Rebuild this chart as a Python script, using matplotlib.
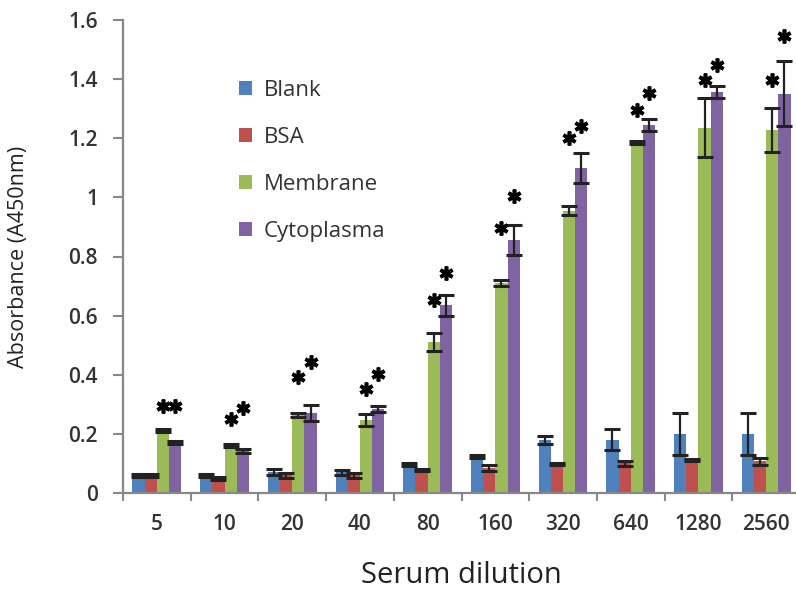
import matplotlib
matplotlib.use("Agg")
import matplotlib.pyplot as plt
import numpy as np

categories = ["5", "10", "20", "40", "80", "160", "320", "640", "1280", "2560"]
series_names = ["Blank", "BSA", "Membrane", "Cytoplasma"]

blank = [0.060, 0.060, 0.070, 0.070, 0.095, 0.122, 0.180, 0.180, 0.200, 0.200]
blank_err = [0.005, 0.005, 0.010, 0.008, 0.005, 0.005, 0.013, 0.035, 0.070, 0.070]
bsa = [0.060, 0.050, 0.060, 0.060, 0.078, 0.085, 0.097, 0.100, 0.112, 0.108]
bsa_err = [0.005, 0.005, 0.008, 0.008, 0.004, 0.010, 0.003, 0.008, 0.003, 0.012]
membrane = [0.213, 0.160, 0.264, 0.247, 0.510, 0.710, 0.955, 1.185, 1.235, 1.228]
membrane_err = [0.005, 0.005, 0.008, 0.020, 0.030, 0.010, 0.015, 0.005, 0.100, 0.076]
cyto = [0.170, 0.142, 0.270, 0.284, 0.635, 0.856, 1.100, 1.245, 1.357, 1.350]
cyto_err = [0.005, 0.007, 0.028, 0.010, 0.035, 0.050, 0.050, 0.020, 0.020, 0.110]

membrane_star = [0.294, 0.250, 0.392, 0.352, 0.653, 0.896, 1.200, 1.296, 1.397, 1.397]
cyto_star = [0.294, 0.288, 0.443, 0.403, 0.744, 1.005, 1.243, 1.353, 1.448, 1.546]

colors = ["#4F81BD", "#C0504D", "#9BBB59", "#8064A2"]

plt.rcParams['font.family'] = ['Open Sans', 'DejaVu Sans']

fig = plt.figure(figsize=(7.96, 5.92), dpi=100)
ax = fig.add_axes([123/796, 99/592, 677/796, 473/592])

x = np.arange(len(categories))
w = 0.18
offsets = [-1.5*w, -0.5*w, 0.5*w, 1.5*w]
vals = [blank, bsa, membrane, cyto]
errs = [blank_err, bsa_err, membrane_err, cyto_err]
handles = []
for i in range(4):
    b = ax.bar(x + offsets[i], vals[i], width=w, color=colors[i], label=series_names[i],
               yerr=errs[i], error_kw=dict(ecolor="#222222", elinewidth=1.6, capsize=6, capthick=2.2),
               zorder=2)
    handles.append(b)

ax.plot(x + offsets[2], membrane_star, linestyle='none', marker=(6, 2, 0), markersize=10,
        markeredgewidth=2.6, color='black', zorder=4)
ax.plot(x + offsets[3], cyto_star, linestyle='none', marker=(6, 2, 0), markersize=10,
        markeredgewidth=2.6, color='black', zorder=4)

ax.set_xlim(-0.5, 9.5)
ax.set_ylim(0, 1.6)
ax.set_yticks(np.arange(0, 1.61, 0.2))
ax.set_yticklabels(["0", "0.2", "0.4", "0.6", "0.8", "1", "1.2", "1.4", "1.6"])
ax.set_xticks(x)
ax.set_xticklabels(categories)
ax.set_xticks(np.arange(-0.5, 9.6, 1), minor=True)
ax.tick_params(axis='x', which='major', length=0, pad=15, labelsize=15, labelcolor='#333333')
ax.tick_params(axis='x', which='minor', length=6, width=1.5, color='#888888', direction='out')
ax.tick_params(axis='y', length=7, width=1.5, color='#888888', labelsize=15, labelcolor='#333333', pad=11)
for t in ax.get_xticklabels() + ax.get_yticklabels():
    t.set_fontweight('semibold')

for s in ['top', 'right']:
    ax.spines[s].set_visible(False)
for s in ['left', 'bottom']:
    ax.spines[s].set_color('#888888')
    ax.spines[s].set_linewidth(1.6)

ax.set_xlabel("Serum dilution", fontsize=21, color='#222222', labelpad=19)
ax.set_ylabel("Absorbance (A450nm)", fontsize=15.5, color='#222222', labelpad=28)

leg = fig.legend(handles=handles, loc='upper left', bbox_to_anchor=(219/796, 1 - 60/592),
                 frameon=False, handlelength=0.6, handleheight=0.6, handletextpad=0.5,
                 labelspacing=1.17, fontsize=16)
for t in leg.get_texts():
    t.set_color('#333333')

fig.savefig("out.png", dpi=100)
